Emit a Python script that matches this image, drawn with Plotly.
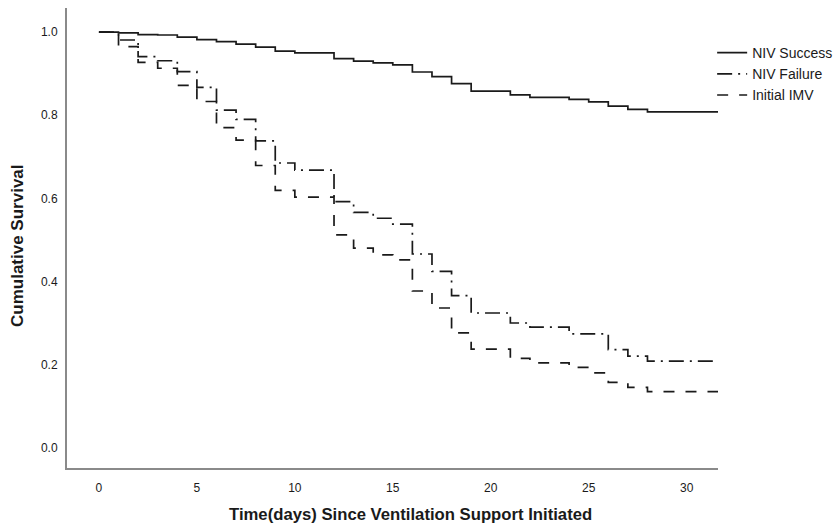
import plotly.graph_objects as go

# Kaplan-Meier step data (time in days, cumulative survival)
success_t = [0, 1, 2, 3, 4, 5, 6, 7, 8, 9, 10, 12, 13, 14, 15, 16, 17, 18, 19, 21, 22, 24, 25, 26, 27, 28, 31.6]
success_s = [1.0, 0.998, 0.994, 0.993, 0.988, 0.982, 0.977, 0.971, 0.964, 0.954, 0.950, 0.936, 0.930, 0.926,
             0.921, 0.904, 0.893, 0.876, 0.858, 0.849, 0.843, 0.838, 0.832, 0.822, 0.814, 0.808, 0.808]

failure_t = [0, 1, 2, 3, 4, 5, 6, 7, 8, 9, 10, 12, 13, 14, 15, 16, 17, 18, 19, 21, 22, 24, 26, 27, 28, 31.6]
failure_s = [1.0, 0.981, 0.941, 0.931, 0.905, 0.867, 0.812, 0.790, 0.738, 0.685, 0.668, 0.592, 0.566, 0.552,
             0.538, 0.466, 0.424, 0.366, 0.324, 0.300, 0.290, 0.274, 0.236, 0.220, 0.208, 0.208]

imv_t = [0, 1, 2, 3, 4, 5, 6, 7, 8, 9, 10, 12, 13, 14, 15, 16, 17, 18, 19, 21, 22, 24, 25, 26, 27, 28, 31.6]
imv_s = [1.0, 0.965, 0.927, 0.913, 0.872, 0.833, 0.770, 0.740, 0.679, 0.619, 0.603, 0.512, 0.480, 0.464,
         0.452, 0.377, 0.336, 0.276, 0.237, 0.215, 0.204, 0.193, 0.180, 0.157, 0.145, 0.135, 0.135]

series_names = ["NIV Success", "NIV Failure", "Initial IMV"]
x_ticks = [0, 5, 10, 15, 20, 25, 30]
y_ticks = [0.0, 0.2, 0.4, 0.6, 0.8, 1.0]
y_tick_text = ["0.0", "0.2", "0.4", "0.6", "0.8", "1.0"]
x_title = "Time(days) Since Ventilation Support Initiated"
y_title = "Cumulative Survival"

FONT = "Liberation Sans, Arial, sans-serif"
INK = "#1a1a1a"

fig = go.Figure()
fig.add_trace(go.Scatter(x=success_t, y=success_s, mode="lines", name=series_names[0],
                         line=dict(shape="hv", color=INK, width=1.7)))
fig.add_trace(go.Scatter(x=failure_t, y=failure_s, mode="lines", name=series_names[1],
                         line=dict(shape="hv", color=INK, width=1.7, dash="15px,6px,2px,6px")))
fig.add_trace(go.Scatter(x=imv_t, y=imv_s, mode="lines", name=series_names[2],
                         line=dict(shape="hv", color=INK, width=1.7, dash="11px,11px")))

fig.update_layout(
    width=839, height=527,
    margin=dict(l=67, r=121, t=8, b=59, autoexpand=False),
    paper_bgcolor="white", plot_bgcolor="white",
    font=dict(family=FONT, size=12, color=INK),
    showlegend=True,
    legend=dict(x=0.991, y=0.937, xanchor="left", yanchor="top",
                font=dict(family=FONT, size=14, color=INK),
                bgcolor="rgba(0,0,0,0)", itemwidth=30, tracegroupgap=0),
    xaxis=dict(range=[-1.63, 31.6], tickvals=x_ticks, ticktext=[str(v) for v in x_ticks],
               showgrid=False, zeroline=False, showline=True, linecolor="#8a8a8a", linewidth=2,
               ticks="", ticklabelstandoff=8, tickfont=dict(size=12, color=INK)),
    yaxis=dict(range=[-0.049, 1.058], tickvals=y_ticks, ticktext=y_tick_text,
               showgrid=False, zeroline=False, showline=True, linecolor="#8a8a8a", linewidth=2,
               ticks="", ticklabelstandoff=5, tickfont=dict(size=12, color=INK)),
    annotations=[
        dict(text="<b>" + x_title + "</b>", xref="paper", yref="paper", x=0.527, y=-0.102,
             xanchor="center", yanchor="middle", showarrow=False, font=dict(size=16.7, color=INK)),
        dict(text="<b>" + y_title + "</b>", xref="paper", yref="paper", x=-0.075, y=0.483,
             xanchor="center", yanchor="middle", textangle=-90, showarrow=False,
             font=dict(size=17, color=INK)),
    ],
)

fig.write_html("out.html")
